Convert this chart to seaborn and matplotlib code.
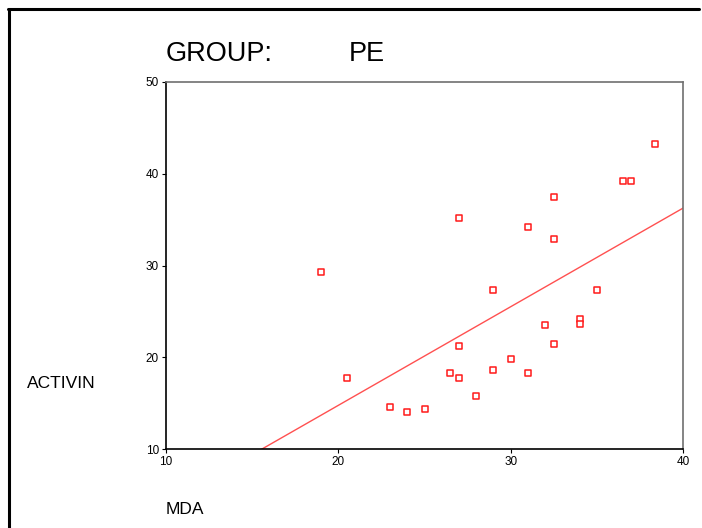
import numpy as np
import pandas as pd
import matplotlib
matplotlib.use("Agg")
import matplotlib.pyplot as plt
import seaborn as sns
from matplotlib.lines import Line2D

# Data (PE group)
mda = [19.0, 20.5, 23.0, 24.0, 25.0, 26.5, 27.0, 27.0, 27.0, 28.0,
       29.0, 29.0, 30.0, 31.0, 31.0, 32.0, 32.5, 32.5, 32.5, 34.0,
       34.0, 35.0, 36.5, 37.0, 38.4]
activin = [29.3, 17.7, 14.6, 14.0, 14.4, 18.3, 35.2, 21.2, 17.7, 15.8,
           27.3, 18.6, 19.8, 34.2, 18.3, 23.5, 37.5, 32.9, 21.4, 24.2,
           23.6, 27.3, 39.2, 39.2, 43.2]
x_ticks = [10, 20, 30, 40]
y_ticks = [10, 20, 30, 40, 50]

df = pd.DataFrame({"MDA": mda, "ACTIVIN": activin})

sns.set_style("white")
plt.rcParams['font.family'] = ['Liberation Sans', 'DejaVu Sans']
plt.rcParams['text.color'] = 'black'

fig = plt.figure(figsize=(7.02, 5.28), dpi=100)
ax = fig.add_axes([166 / 702, 1 - 449 / 528, (683 - 166) / 702, (449 - 82) / 528])
ax.set_xlim(10, 40)
ax.set_ylim(10, 50)

sns.regplot(data=df, x="MDA", y="ACTIVIN", ax=ax, ci=None, truncate=False,
            marker="s",
            scatter_kws={"s": 22, "facecolors": "white", "edgecolors": "#ff1a1a",
                         "linewidths": 1.1, "alpha": 1, "zorder": 3},
            line_kws={"color": "#ff5050", "lw": 1.0})

ax.set_xlim(10, 40)
ax.set_ylim(10, 50)
ax.set_xticks(x_ticks)
ax.set_yticks(y_ticks)
ax.set_xlabel("")
ax.set_ylabel("")
ax.tick_params(axis="both", direction="out", length=3, width=0.8, labelsize=8.5,
               pad=2, colors="black", bottom=True, left=True)
for side in ["left", "bottom"]:
    ax.spines[side].set_color("black")
    ax.spines[side].set_linewidth(1.2)
for side in ["top", "right"]:
    ax.spines[side].set_color("#707070")
    ax.spines[side].set_linewidth(1.2)

fig.text(166 / 702, 1 - 54 / 528, "GROUP:", fontsize=19.5, va="center", ha="left", color="black")
fig.text(349 / 702, 1 - 54 / 528, "PE", fontsize=19.5, va="center", ha="left", color="black")
fig.text(27 / 702, 1 - 383 / 528, "ACTIVIN", fontsize=12.5, va="center", ha="left", color="black")
fig.text(166 / 702, 1 - 509 / 528, "MDA", fontsize=12.5, va="center", ha="left", color="black")

# outer frame (left and top edges)
fig.add_artist(Line2D([9 / 702, 9 / 702], [0, 1 - 9 / 528], color="black", lw=2.2,
                      transform=fig.transFigure))
fig.add_artist(Line2D([8 / 702, 699 / 702], [1 - 9 / 528, 1 - 9 / 528], color="black",
                      lw=2.2, transform=fig.transFigure))

fig.savefig("out.png", dpi=100)
